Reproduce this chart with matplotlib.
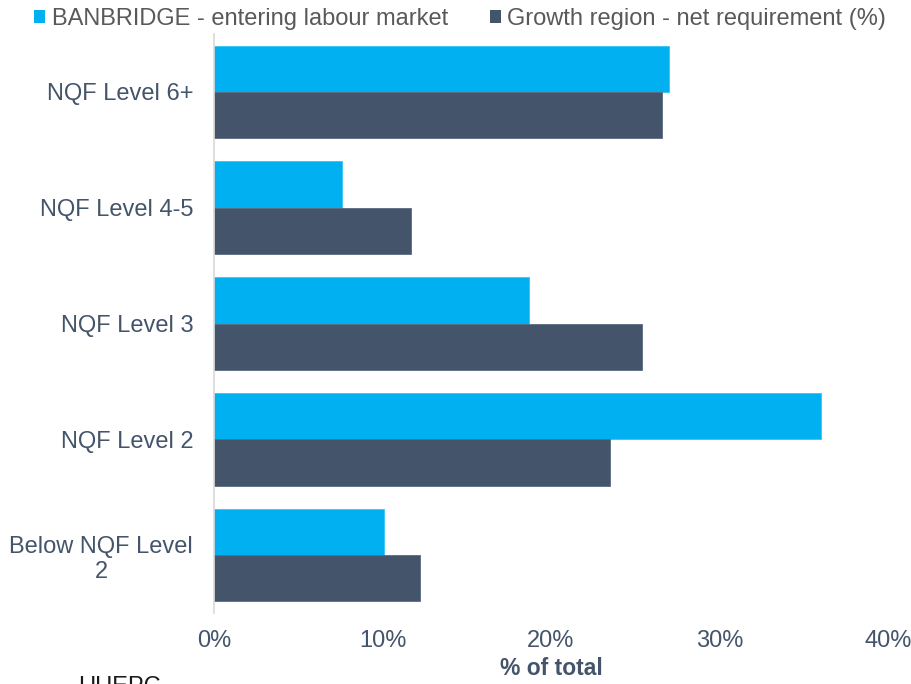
import matplotlib
matplotlib.use("Agg")
import matplotlib.pyplot as plt
import matplotlib.patches as mpatches
import numpy as np
from matplotlib.ticker import FuncFormatter

plt.rcParams["font.family"] = ["Liberation Sans", "DejaVu Sans"]

CYAN = "#00B0F0"
SLATE = "#44546A"
TEXT = "#44546A"
LEGEND_TEXT = "#595959"

# qualification levels, top to bottom
categories = ["NQF Level 6+", "NQF Level 4-5", "NQF Level 3", "NQF Level 2",
              "Below NQF Level\n2"]
banbridge = [27.0, 7.6, 18.7, 36.0, 10.1]
growth = [26.6, 11.7, 25.4, 23.5, 12.2]
series_names = ["BANBRIDGE - entering labour market",
                "Growth region - net requirement (%)"]
x_ticks = [0, 10, 20, 30, 40]

fig = plt.figure(figsize=(9.11, 6.84), dpi=100)
ax = fig.add_axes([214 / 911, 1 - 613 / 684, (888 - 214) / 911, (613 - 34) / 684])

y = np.arange(len(categories))
h = 0.4
ax.barh(y - h / 2, banbridge, h, color=CYAN, edgecolor="#33C4F5", linewidth=0.6)
ax.barh(y + h / 2, growth, h, color=SLATE, edgecolor="#5A6A80", linewidth=0.6)

ax.set_ylim(len(categories) - 0.5, -0.5)
ax.set_xlim(0, 40)
ax.set_xticks(x_ticks)
ax.xaxis.set_major_formatter(FuncFormatter(lambda v, _: f"{v:.0f}%"))
ax.set_yticks(y)
ax.set_yticklabels(categories, multialignment="center", linespacing=1.2)

ax.tick_params(axis="x", length=0, pad=12, labelsize=17, labelcolor=TEXT)
ax.tick_params(axis="y", length=0, pad=15, labelsize=17, labelcolor=TEXT)

for side in ["top", "right", "bottom"]:
    ax.spines[side].set_visible(False)
ax.spines["left"].set_color("#D9D9D9")
ax.spines["left"].set_linewidth(1.2)

ax.set_xlabel("% of total", fontsize=16.5, fontweight="bold", color=TEXT, labelpad=4)

handles = [mpatches.Patch(facecolor=CYAN, label=series_names[0]),
           mpatches.Patch(facecolor=SLATE, label=series_names[1])]
fig.legend(handles=handles, loc="center left", bbox_to_anchor=(34 / 911, 1 - 19 / 684),
           ncol=2, frameon=False, fontsize=17, handlelength=0.48, handleheight=0.48,
           handletextpad=0.28, columnspacing=1.75, borderpad=0, borderaxespad=0,
           labelcolor=LEGEND_TEXT)

fig.text(78 / 911, 1 - 676 / 684, "UUEPC", fontsize=17, color="#1A1A1A",
         ha="left", va="top")

fig.savefig("out.png", dpi=100, facecolor="white")
